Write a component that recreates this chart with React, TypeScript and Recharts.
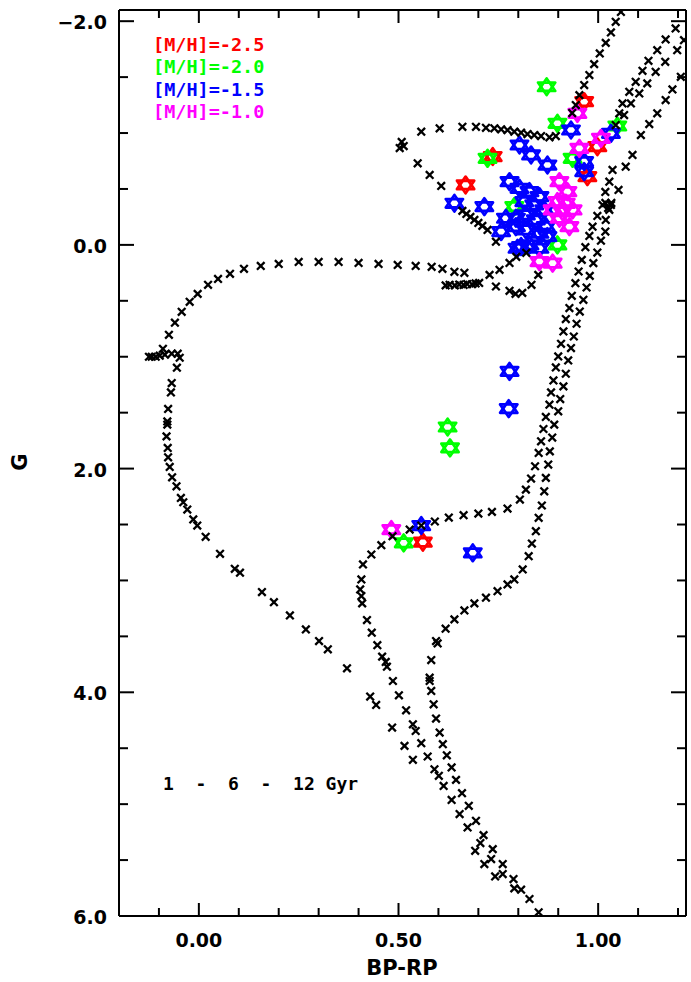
import React from "react";
import { ScatterChart, Scatter, XAxis, YAxis } from "recharts";

// isochrone points [BP-RP, G]
const iso1Gyr: [number, number][] = [
  [0.536, 4.604], [0.515, 4.479], [0.484, 4.315], [0.444, 4.113], [0.429, 4.038], [0.371, 3.786],
  [0.323, 3.616], [0.301, 3.542], [0.268, 3.438], [0.228, 3.313], [0.188, 3.194], [0.158, 3.104],
  [0.103, 2.931], [0.09, 2.896], [0.053, 2.762], [0.017, 2.61], [-0.004, 2.509], [-0.014, 2.455],
  [-0.029, 2.366], [-0.039, 2.301], [-0.045, 2.262], [-0.056, 2.158], [-0.067, 2.078], [-0.073, 1.985],
  [-0.077, 1.899], [-0.078, 1.815], [-0.081, 1.712], [-0.079, 1.607], [-0.079, 1.578], [-0.077, 1.467],
  [-0.07, 1.319], [-0.068, 1.235], [-0.055, 1.098], [-0.048, 1.009], [-0.053, 0.973], [-0.068, 0.973],
  [-0.085, 0.982], [-0.098, 0.991], [-0.108, 1.0], [-0.118, 1.0], [-0.125, 1.0], [-0.09, 0.929],
  [-0.075, 0.804], [-0.06, 0.696], [-0.043, 0.598], [-0.023, 0.509], [-0.003, 0.438], [0.023, 0.357],
  [0.048, 0.304], [0.078, 0.259], [0.113, 0.214], [0.155, 0.188], [0.2, 0.17], [0.25, 0.152],
  [0.3, 0.152], [0.35, 0.152], [0.4, 0.161], [0.45, 0.17], [0.498, 0.179], [0.543, 0.188],
  [0.583, 0.196], [0.61, 0.214], [0.64, 0.241], [0.665, 0.25],
  [0.618, 0.362], [0.628, 0.357], [0.641, 0.362], [0.652, 0.355], [0.663, 0.358], [0.672, 0.35],
  [0.684, 0.352], [0.693, 0.345], [0.702, 0.34],
  [0.728, 0.268], [0.753, 0.223], [0.778, 0.161], [0.795, 0.107], [0.82, 0.071],
  [0.935, -1.179], [0.944, -1.25], [0.953, -1.339], [0.965, -1.429], [0.978, -1.518], [0.99, -1.616],
  [1.004, -1.712], [1.019, -1.806], [1.032, -1.899], [1.044, -1.994], [1.057, -2.083],
];

const iso1Loop: [number, number][] = [
  [0.503, -0.866], [0.508, -0.92], [0.513, -0.884], [0.557, -1.012], [0.603, -1.042], [0.66, -1.056],
  [0.694, -1.056], [0.719, -1.047], [0.74, -1.042], [0.757, -1.033], [0.773, -1.027], [0.79, -1.012],
  [0.807, -1.003], [0.823, -0.991], [0.84, -0.982], [0.857, -0.973], [0.878, -0.962], [0.894, -0.973],
  [0.548, -0.729], [0.578, -0.625], [0.607, -0.527], [0.66, -0.304], [0.67, -0.277], [0.68, -0.25],
  [0.69, -0.223], [0.7, -0.196], [0.71, -0.17], [0.723, -0.134], [0.744, -0.029],
];

const iso6Gyr: [number, number][] = [
  [0.79, 5.753], [0.742, 5.646], [0.715, 5.536], [0.692, 5.417], [0.673, 5.208], [0.653, 5.089],
  [0.633, 4.962], [0.613, 4.837], [0.601, 4.747], [0.59, 4.688], [0.573, 4.574], [0.557, 4.455],
  [0.543, 4.346], [0.536, 4.286], [0.519, 4.161], [0.501, 4.027], [0.486, 3.899], [0.471, 3.771],
  [0.468, 3.729], [0.459, 3.681], [0.447, 3.579], [0.433, 3.467], [0.421, 3.354], [0.409, 3.205],
  [0.407, 3.14], [0.404, 3.08], [0.407, 2.991], [0.411, 2.857], [0.432, 2.768], [0.457, 2.685],
  [0.485, 2.604], [0.528, 2.545], [0.557, 2.509], [0.591, 2.473], [0.626, 2.438], [0.663, 2.417],
  [0.7, 2.402], [0.734, 2.387], [0.773, 2.357], [0.804, 2.277], [0.819, 2.188], [0.832, 2.089],
  [0.842, 1.979], [0.851, 1.86], [0.857, 1.756], [0.863, 1.646], [0.869, 1.538], [0.878, 1.429],
  [0.882, 1.319], [0.888, 1.212], [0.894, 1.096], [0.9, 0.997], [0.907, 0.884], [0.913, 0.774],
  [0.919, 0.663], [0.928, 0.565], [0.934, 0.455], [0.943, 0.342], [0.951, 0.238], [0.959, 0.134],
  [0.968, 0.021], [0.978, -0.08], [0.986, -0.163], [0.998, -0.259], [1.011, -0.357], [1.018, -0.375],
  [1.018, -0.473], [1.028, -0.565], [1.036, -0.67],
  [1.044, -1.071], [1.053, -1.176], [1.061, -1.265], [1.078, -1.369], [1.094, -1.458], [1.111, -1.556],
  [1.126, -1.646], [1.148, -1.741], [1.169, -1.837], [1.194, -1.935],
];

const iso6Agb: [number, number][] = [
  [1.065, -1.161], [1.082, -1.265], [1.103, -1.354], [1.123, -1.444], [1.144, -1.547], [1.168, -1.637],
  [1.198, -1.741], [1.215, -1.83],
];

const iso12Gyr: [number, number][] = [
  [0.851, 5.967], [0.828, 5.848], [0.807, 5.765], [0.788, 5.67], [0.761, 5.625], [0.761, 5.536],
  [0.732, 5.491], [0.736, 5.402], [0.705, 5.348], [0.713, 5.277], [0.694, 5.149], [0.676, 5.015],
  [0.659, 4.902], [0.644, 4.783], [0.633, 4.672], [0.621, 4.563], [0.611, 4.464], [0.603, 4.36],
  [0.594, 4.235], [0.588, 4.107], [0.582, 3.988], [0.578, 3.899], [0.578, 3.869], [0.582, 3.712],
  [0.594, 3.542], [0.598, 3.563], [0.618, 3.431], [0.64, 3.348], [0.665, 3.268], [0.69, 3.205],
  [0.719, 3.154], [0.748, 3.096], [0.773, 3.036], [0.79, 2.991], [0.811, 2.902], [0.826, 2.783],
  [0.834, 2.67], [0.844, 2.56], [0.851, 2.44], [0.859, 2.33], [0.865, 2.203], [0.869, 2.083],
  [0.875, 1.964], [0.879, 1.846], [0.885, 1.723], [0.89, 1.607], [0.9, 1.488], [0.905, 1.378],
  [0.913, 1.265], [0.919, 1.152], [0.925, 1.033], [0.932, 0.922], [0.939, 0.819], [0.946, 0.705],
  [0.954, 0.596], [0.963, 0.491], [0.971, 0.381], [0.979, 0.277], [0.988, 0.163], [0.998, 0.069],
  [1.007, -0.038], [1.018, -0.119], [1.019, -0.223], [1.028, -0.313], [1.025, -0.33], [1.032, -0.357],
  [1.033, -0.375], [1.051, -0.491], [1.069, -0.699], [1.086, -0.804], [1.107, -0.982], [1.128, -1.08],
  [1.148, -1.176], [1.169, -1.295], [1.186, -1.39], [1.207, -1.503],
];

const clumpOld: [number, number][] = [
  [0.744, 0.372], [0.778, 0.411], [0.793, 0.438], [0.81, 0.429], [0.833, 0.357], [0.85, 0.268],
];

// observed stars, one list per metallicity
const starsM25: [number, number][] = [
  [0.965, -1.28], [0.736, -0.79], [0.668, -0.536], [0.998, -0.878], [0.973, -0.61], [0.561, 2.658],
];
const starsM20: [number, number][] = [
  [0.871, -1.414], [0.898, -1.087], [0.723, -0.774], [1.048, -1.063], [0.936, -0.774], [0.79, -0.342],
  [0.898, 0.0], [0.623, 1.628], [0.629, 1.815], [0.513, 2.664],
];
const starsM15: [number, number][] = [
  [0.932, -1.027], [1.032, -0.997], [0.965, -0.744], [0.965, -0.655], [0.803, -0.893], [0.832, -0.804],
  [0.873, -0.714], [0.778, -0.565], [0.803, -0.506], [0.828, -0.476], [0.853, -0.431], [0.815, -0.387],
  [0.84, -0.357], [0.865, -0.313], [0.769, -0.238], [0.794, -0.238], [0.819, -0.268], [0.844, -0.223],
  [0.794, -0.163], [0.819, -0.134], [0.869, -0.163], [0.853, -0.104], [0.873, -0.074], [0.807, 0.015],
  [0.828, 0.0], [0.853, 0.03], [0.798, 0.03], [0.757, -0.119], [0.715, -0.342], [0.64, -0.372],
  [0.686, 2.753], [0.557, 2.509], [0.778, 1.131], [0.776, 1.464],
];
const starsM10: [number, number][] = [
  [0.948, -1.176], [0.953, -0.863], [1.007, -0.952], [0.903, -0.565], [0.923, -0.476], [0.898, -0.387],
  [0.919, -0.372], [0.886, -0.313], [0.911, -0.297], [0.936, -0.313], [0.903, -0.238], [0.928, -0.163],
  [0.853, 0.149], [0.886, 0.163], [0.482, 2.545],
];

const X_TICKS = [-0.1, 0, 0.1, 0.2, 0.3, 0.4, 0.5, 0.6, 0.7, 0.8, 0.9, 1.0, 1.1, 1.2];
const Y_TICKS = [-2, -1.5, -1, -0.5, 0, 0.5, 1, 1.5, 2, 2.5, 3, 3.5, 4, 4.5, 5, 5.5, 6];

const metalLegend = [
  { label: "[M/H]=-2.5", color: "#ff0000" },
  { label: "[M/H]=-2.0", color: "#00ff00" },
  { label: "[M/H]=-1.5", color: "#0000ff" },
  { label: "[M/H]=-1.0", color: "#ff00ff" },
];

const toPts = (arr: [number, number][]) => arr.map(([x, g]) => ({ x, g }));
const isMajor = (v: number, step: number) => Math.abs(v / step - Math.round(v / step)) < 1e-6;

const FONT = "'DejaVu Sans', sans-serif";
const MONO = "'DejaVu Sans Mono', monospace";

const Cross = (p: any) => {
  const { cx, cy } = p;
  const s = 3.8;
  return (
    <path
      d={`M${cx - s},${cy - s}L${cx + s},${cy + s}M${cx - s},${cy + s}L${cx + s},${cy - s}`}
      stroke="#000"
      strokeWidth={2.3}
    />
  );
};

const makeStar = (color: string) => (p: any) => {
  const { cx, cy } = p;
  return (
    <g fill="none" stroke={color} strokeWidth={2.8} strokeLinejoin="round">
      <path d={`M${cx},${cy - 8.3}L${cx + 8.6},${cy + 4.2}L${cx - 8.6},${cy + 4.2}Z`} />
      <path d={`M${cx},${cy + 8.3}L${cx + 8.6},${cy - 4.2}L${cx - 8.6},${cy - 4.2}Z`} />
    </g>
  );
};

const XTick = ({ x, y, payload, side }: any) => {
  const v = payload.value;
  const major = isMajor(v, 0.5);
  const len = major ? 13 : 8;
  const dir = side === "bottom" ? -1 : 1;
  return (
    <g>
      <line x1={x} x2={x} y1={y} y2={y + dir * len} stroke="#000" strokeWidth={2} />
      {side === "bottom" && major && (
        <text x={x} y={y + 24} textAnchor="middle" dominantBaseline="central"
          fontFamily={FONT} fontWeight="bold" fontSize={19} fill="#000">
          {v.toFixed(2)}
        </text>
      )}
    </g>
  );
};

const YTick = ({ x, y, payload, side }: any) => {
  const v = payload.value;
  const major = isMajor(v, 2);
  const len = major ? 15 : 9;
  const dir = side === "left" ? 1 : -1;
  const label = (v < 0 ? "\u2212" : "") + Math.abs(v).toFixed(1);
  return (
    <g>
      <line x1={x} x2={x + dir * len} y1={y} y2={y} stroke="#000" strokeWidth={2} />
      {side === "left" && major && (
        <text x={x - 12} y={y + 1} textAnchor="end" dominantBaseline="central"
          fontFamily={FONT} fontWeight="bold" fontSize={19} fill="#000">
          {label}
        </text>
      )}
    </g>
  );
};

const frame = { stroke: "#000", strokeWidth: 2 };

export default function App() {
  const W = 691;
  const H = 982;
  return (
    <div style={{ position: "absolute", left: 0, top: 0, width: W, height: H, background: "#fff" }}>
      <ScatterChart width={W} height={H} margin={{ top: 10, right: 5, bottom: 0, left: 0 }}>
        <XAxis xAxisId="b" type="number" dataKey="x" domain={[-0.2, 1.22]} allowDataOverflow
          ticks={X_TICKS} interval={0} height={66} tickSize={0} tickMargin={0} tickLine={false}
          axisLine={frame} tick={(p: any) => <XTick {...p} side="bottom" />} />
        <XAxis xAxisId="t" orientation="top" mirror type="number" dataKey="x" domain={[-0.2, 1.22]}
          allowDataOverflow ticks={X_TICKS} interval={0} tickSize={0} tickMargin={0} tickLine={false}
          axisLine={frame} tick={(p: any) => <XTick {...p} side="top" />} />
        <YAxis yAxisId="l" type="number" dataKey="g" reversed domain={[-2.1, 6]} allowDataOverflow
          ticks={Y_TICKS} interval={0} width={119} tickSize={0} tickMargin={0} tickLine={false}
          axisLine={frame} tick={(p: any) => <YTick {...p} side="left" />} />
        <YAxis yAxisId="r" orientation="right" mirror type="number" dataKey="g" reversed domain={[-2.1, 6]}
          allowDataOverflow ticks={Y_TICKS} interval={0} tickSize={0} tickMargin={0} tickLine={false}
          axisLine={frame} tick={(p: any) => <YTick {...p} side="right" />} />

        <Scatter xAxisId="b" yAxisId="l" data={toPts(starsM25)} shape={makeStar("#ff0000")} isAnimationActive={false} />
        <Scatter xAxisId="b" yAxisId="l" data={toPts(starsM20)} shape={makeStar("#00ff00")} isAnimationActive={false} />
        <Scatter xAxisId="b" yAxisId="l" data={toPts(starsM15)} shape={makeStar("#0000ff")} isAnimationActive={false} />
        <Scatter xAxisId="b" yAxisId="l" data={toPts(starsM10)} shape={makeStar("#ff00ff")} isAnimationActive={false} />

        <Scatter xAxisId="b" yAxisId="l" data={toPts(iso1Gyr)} shape={Cross} isAnimationActive={false} />
        <Scatter xAxisId="b" yAxisId="l" data={toPts(iso1Loop)} shape={Cross} isAnimationActive={false} />
        <Scatter xAxisId="b" yAxisId="l" data={toPts(iso6Gyr)} shape={Cross} isAnimationActive={false} />
        <Scatter xAxisId="b" yAxisId="l" data={toPts(iso6Agb)} shape={Cross} isAnimationActive={false} />
        <Scatter xAxisId="b" yAxisId="l" data={toPts(iso12Gyr)} shape={Cross} isAnimationActive={false} />
        <Scatter xAxisId="b" yAxisId="l" data={toPts(clumpOld)} shape={Cross} isAnimationActive={false} />
      </ScatterChart>

      {/* titles and annotations */}
      <svg width={W} height={H} style={{ position: "absolute", left: 0, top: 0, pointerEvents: "none" }}>
        {metalLegend.map((m, i) => (
          <text key={m.label} x={153} y={44 + i * 22.6} dominantBaseline="central"
            fontFamily={MONO} fontWeight="bold" fontSize={18.5} fill={m.color}>
            {m.label}
          </text>
        ))}
        <text x={163} y={783} dominantBaseline="central" xmlSpace="preserve" style={{ whiteSpace: "pre" }}
          fontFamily={MONO} fontWeight="bold" fontSize={18} fill="#000">
          {"1  -  6  -  12 Gyr"}
        </text>
        <text x={402} y={968} textAnchor="middle" dominantBaseline="central"
          fontFamily={FONT} fontWeight="bold" fontSize={21} fill="#000">
          BP-RP
        </text>
        <text x={20} y={462} textAnchor="middle" dominantBaseline="central" transform="rotate(-90 20 462)"
          fontFamily={FONT} fontWeight="bold" fontSize={21} fill="#000">
          G
        </text>
      </svg>
    </div>
  );
}
